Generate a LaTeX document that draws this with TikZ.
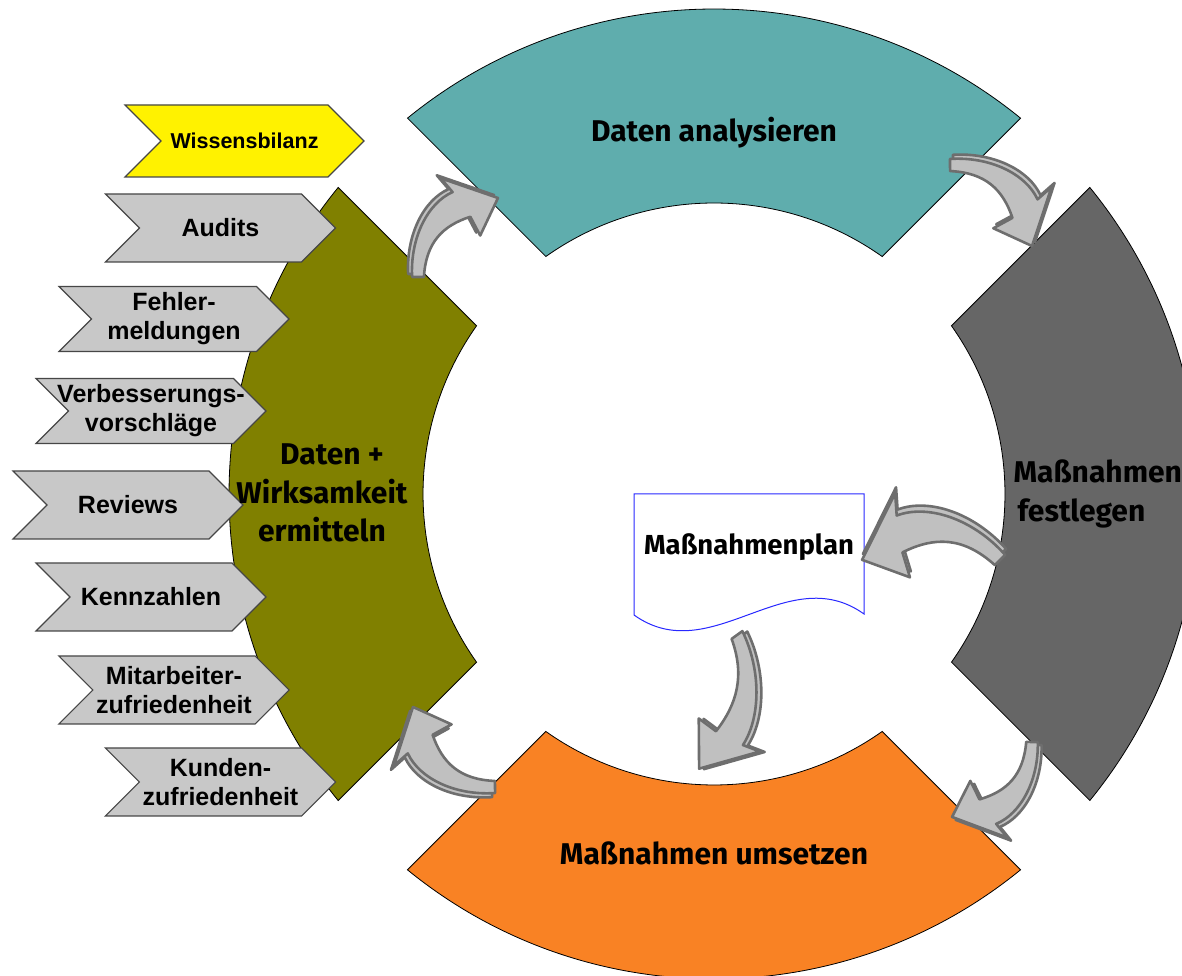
\documentclass[tikz,border=0pt]{standalone}
\usepackage{fontspec}
\setmainfont{Liberation Sans}
\newfontfamily\phasefont{Fira Sans}
\usetikzlibrary{calc,shapes.symbols}
\definecolor{tealsec}{RGB}{95,173,173}
\definecolor{graysec}{RGB}{102,102,102}
\definecolor{orangesec}{RGB}{249,130,36}
\definecolor{olivesec}{RGB}{128,128,0}
\definecolor{chevfill}{RGB}{200,200,200}
\definecolor{chevline}{RGB}{70,70,70}
\definecolor{arrowfill}{RGB}{192,192,192}
\definecolor{arrowline}{RGB}{110,110,110}
\definecolor{planblue}{RGB}{40,40,255}
\def\Ro{485}\def\Ri{291}\def\gap{49}
% bent block arrow from tail coordinate to tip coordinate
\def\bentarrow[#1](#2)(#3){%
  \pgfpointdiff{\pgfpointanchor{#2}{center}}{\pgfpointanchor{#3}{center}}%
  \pgfgetlastxy{\arrx}{\arry}%
  \pgfmathsetmacro\arrang{atan2(\arry,\arrx)}%
  \pgfmathsetmacro\arrlen{veclen(\arrx,\arry)/113.1}%
  \begin{scope}[shift={(#2)},rotate=\arrang,#1,rotate=-45,scale=\arrlen]
    \foreach \dx/\dy in {-4/3,0/0}
      \draw[arrowbody,shift={(\dx,\dy)}] (-6,0) .. controls (-8,40) and (10,75) .. (35,86)
        -- (23,100) -- (81,80) -- (63,42) -- (53,61) .. controls (25,52) and (8,35) .. (6,0) -- cycle;
  \end{scope}}
\tikzset{
  sector/.style={draw=black, line width=0.8pt},
  chevron/.style={signal, signal from=west, signal to=east, fill=chevfill, draw=chevline,
    line width=1.2pt, minimum width=230, minimum height=68, align=center,
    font=\fontsize{25}{29}\selectfont\bfseries},
  arrowbody/.style={fill=arrowfill, draw=arrowline, line width=2.6pt, line join=round},
  phase/.style={align=center, font=\phasefont\fontsize{30}{38.5}\selectfont\bfseries},
}
\begin{document}
\begin{tikzpicture}[x=1pt,y=1pt]
  \useasboundingbox (0,0) rectangle (1182,976);
  \clip (0,0) rectangle (1182,976);
  \pgfmathsetmacro\ao{asin(\gap/\Ro)}
  \pgfmathsetmacro\ai{asin(\gap/\Ri)}

  %%%%% ring %%%%%
  \begin{scope}[shift={(714,482)}]
    \foreach \m/\c in {90/tealsec,0/graysec,270/orangesec,180/olivesec}
      \draw[sector,fill=\c] ({\m-45+\ao}:\Ro) arc[start angle=\m-45+\ao,end angle=\m+45-\ao,radius=\Ro]
        -- ({\m+45-\ai}:\Ri) arc[start angle=\m+45-\ai,end angle=\m-45+\ai,radius=\Ri] -- cycle;
  \end{scope}

  %%%%% inputs %%%%%
  \node[chevron, fill=yellow, minimum width=239, minimum height=72,
    font=\fontsize{21.5}{25}\selectfont\bfseries] (wissen) at (244.5,835) {Wissensbilanz};
  \node[chevron] (audits) at (220.5,748) {Audits};
  \node[chevron, minimum height=65] (fehler) at (174,657) {Fehler-\\meldungen};
  \node[chevron, minimum height=65] (vorschlag) at (151,565) {\makebox[140pt]{Verbesserungs-}\\vorschläge};
  \node[chevron] (reviews) at (128,471) {Reviews};
  \node[chevron] (kennzahlen) at (151,379) {Kennzahlen};
  \node[chevron] (mitarbeiter) at (174,286) {Mitarbeiter-\\zufriedenheit};
  \node[chevron] (kunden) at (220.5,194) {Kunden-\\zufriedenheit};

  %%%%% phases %%%%%
  \node[phase] (analyse) at (714,843) {Daten analysieren};
  \node[phase] (umsetzen) at (714,123) {Maßnahmen umsetzen};
  \node[phase] (ermitteln) at (322,483) {\hspace*{20pt}Daten +\\Wirksamkeit\\ermitteln};
  \node[phase, anchor=west, align=left] (festlegen) at (1010,482) {Maßnahmen\\\hspace{4pt}festlegen};

  %%%%% plan %%%%%
  \draw[planblue, line width=1pt, fill=white] (634,482) -- (864,482) -- (864,362)
    .. controls (787,417) and (711,306) .. (634,361) -- cycle;
  \node[phase, font=\phasefont\fontsize{27.5}{32}\selectfont\bfseries] (plan) at (749,429) {Maßnahmenplan};

  %%%%% arrows %%%%%
  \coordinate (ermitteln-out) at (418,699);  \coordinate (analyse-in) at (497,778);
  \coordinate (analyse-out) at (950,811);    \coordinate (festlegen-in) at (1032,731);
  \coordinate (festlegen-out) at (1000,416); \coordinate (plan-in) at (863,417);
  \coordinate (plan-out) at (737,341);       \coordinate (umsetzen-in) at (700,208);
  \coordinate (festlegen-low) at (1032,234); \coordinate (umsetzen-right) at (953,159);
  \coordinate (umsetzen-out) at (495,189);   \coordinate (ermitteln-in) at (413,268);
  \bentarrow[](ermitteln-out)(analyse-in)
  \bentarrow[](analyse-out)(festlegen-in)
  \bentarrow[yscale=-1](festlegen-out)(plan-in)
  \bentarrow[yscale=0.8](plan-out)(umsetzen-in)
  \bentarrow[](festlegen-low)(umsetzen-right)
  \bentarrow[](umsetzen-out)(ermitteln-in)
\end{tikzpicture}
\end{document}
